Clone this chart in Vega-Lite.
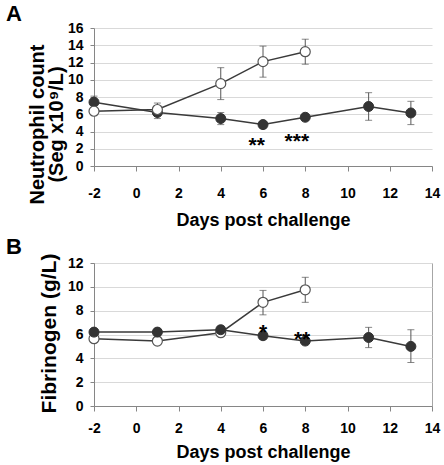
{
  "$schema": "https://vega.github.io/schema/vega-lite/v6.json",
  "padding": {"left": 5, "top": 3, "right": 5, "bottom": 5},
  "background": "white",
  "spacing": 97,
  "bounds": "flush",
  "config": {
    "font": "Liberation Sans",
    "view": {"stroke": null},
    "axis": {
      "labelFont": "Liberation Sans", "labelFontWeight": "bold", "labelFontSize": 14, "labelColor": "black",
      "titleFont": "Liberation Sans", "titleFontWeight": "bold", "titleColor": "black",
      "domainColor": "#868686", "tickColor": "#868686", "gridColor": "#d9d9d9",
      "labelFlush": false, "labelOverlap": false
    },
    "title": {"font": "Liberation Sans", "fontWeight": "bold", "fontSize": 22, "color": "black", "anchor": "start", "frame": "group"}
  },
  "datasets": {
    "a": [
      {"day": -2, "value": 7.4, "lo": 6.7, "hi": 8.1, "group": "filled"},
      {"day": 1, "value": 6.2, "lo": 5.5, "hi": 6.9, "group": "filled"},
      {"day": 4, "value": 5.5, "lo": 4.8, "hi": 6.2, "group": "filled"},
      {"day": 6, "value": 4.8, "lo": 4.5, "hi": 5.1, "group": "filled"},
      {"day": 8, "value": 5.65, "lo": 5.3, "hi": 6.0, "group": "filled"},
      {"day": 11, "value": 6.9, "lo": 5.3, "hi": 8.5, "group": "filled"},
      {"day": 13, "value": 6.15, "lo": 4.8, "hi": 7.5, "group": "filled"},
      {"day": -2, "value": 6.35, "lo": 6.0, "hi": 6.7, "group": "open"},
      {"day": 1, "value": 6.55, "lo": 5.9, "hi": 7.3, "group": "open"},
      {"day": 4, "value": 9.55, "lo": 7.7, "hi": 11.4, "group": "open"},
      {"day": 6, "value": 12.1, "lo": 10.3, "hi": 13.9, "group": "open"},
      {"day": 8, "value": 13.25, "lo": 11.8, "hi": 14.7, "group": "open"}
    ],
    "aStars": [
      {"day": 5.7, "value": 3.0, "label": "**"},
      {"day": 7.6, "value": 3.5, "label": "***"}
    ],
    "b": [
      {"day": -2, "value": 6.2, "lo": 5.9, "hi": 6.5, "group": "filled"},
      {"day": 1, "value": 6.2, "lo": 5.9, "hi": 6.5, "group": "filled"},
      {"day": 4, "value": 6.4, "lo": 6.1, "hi": 6.7, "group": "filled"},
      {"day": 6, "value": 5.9, "lo": 5.6, "hi": 6.2, "group": "filled"},
      {"day": 8, "value": 5.45, "lo": 5.15, "hi": 5.75, "group": "filled"},
      {"day": 11, "value": 5.75, "lo": 4.9, "hi": 6.6, "group": "filled"},
      {"day": 13, "value": 5.0, "lo": 3.65, "hi": 6.4, "group": "filled"},
      {"day": -2, "value": 5.65, "lo": 5.35, "hi": 5.95, "group": "open"},
      {"day": 1, "value": 5.45, "lo": 5.15, "hi": 5.75, "group": "open"},
      {"day": 4, "value": 6.15, "lo": 5.85, "hi": 6.45, "group": "open"},
      {"day": 6, "value": 8.7, "lo": 7.65, "hi": 9.7, "group": "open"},
      {"day": 8, "value": 9.75, "lo": 8.7, "hi": 10.8, "group": "open"}
    ],
    "bStars": [
      {"day": 6.0, "value": 6.6, "label": "*"},
      {"day": 7.85, "value": 6.05, "label": "**"}
    ]
  },
  "vconcat": [
    {
      "width": 338,
      "height": 138,
      "title": {"text": "A", "dx": -88, "offset": -5},
      "data": {"name": "a"},
      "encoding": {
        "x": {"field": "day", "type": "quantitative", "scale": {"domain": [-2, 14], "nice": false, "zero": false},
          "axis": {"values": [-2, 0, 2, 4, 6, 8, 10, 12, 14], "domain": true, "grid": false, "tickSize": 5, "labelPadding": 15, "labelFontWeight": "bold", "labelExpr": "datum.value < 0 ? '-' + abs(datum.value) : datum.label", "title": "Days post challenge", "titleFontSize": 18, "titlePadding": 11}}
      },
      "layer": [
        {
          "mark": {"type": "rule", "color": "#555555", "strokeWidth": 1},
          "encoding": {
            "y": {"field": "lo", "type": "quantitative", "scale": {"domain": [0, 16], "nice": false},
              "axis": {"values": [0, 2, 4, 6, 8, 10, 12, 14, 16], "domain": true, "grid": true, "tickSize": 4, "labelPadding": 7, "labelFontWeight": "bold", "title": ["Neutrophil count", "(Seg x10⁹/L)"], "titleFontSize": 20, "titleLineHeight": 19, "titlePadding": 1, "titleY": 96}},
            "y2": {"field": "hi"}
          }
        },
        {
          "mark": {"type": "tick", "orient": "horizontal", "color": "#555555", "thickness": 1, "size": 7},
          "encoding": {"y": {"field": "lo", "type": "quantitative", "scale": {"domain": [0, 16], "nice": false},
              "axis": {"values": [0, 2, 4, 6, 8, 10, 12, 14, 16], "domain": true, "grid": true, "tickSize": 4, "labelPadding": 7, "labelFontWeight": "bold", "title": ["Neutrophil count", "(Seg x10⁹/L)"], "titleFontSize": 20, "titleLineHeight": 19, "titlePadding": 1, "titleY": 96}}}
        },
        {
          "mark": {"type": "tick", "orient": "horizontal", "color": "#555555", "thickness": 1, "size": 7},
          "encoding": {"y": {"field": "hi", "type": "quantitative", "scale": {"domain": [0, 16], "nice": false},
              "axis": {"values": [0, 2, 4, 6, 8, 10, 12, 14, 16], "domain": true, "grid": true, "tickSize": 4, "labelPadding": 7, "labelFontWeight": "bold", "title": ["Neutrophil count", "(Seg x10⁹/L)"], "titleFontSize": 20, "titleLineHeight": 19, "titlePadding": 1, "titleY": 96}}}
        },
        {
          "mark": {"type": "line", "color": "#3a3a3a", "strokeWidth": 1.5},
          "encoding": {"y": {"field": "value", "type": "quantitative", "scale": {"domain": [0, 16], "nice": false},
              "axis": {"values": [0, 2, 4, 6, 8, 10, 12, 14, 16], "domain": true, "grid": true, "tickSize": 4, "labelPadding": 7, "labelFontWeight": "bold", "title": ["Neutrophil count", "(Seg x10⁹/L)"], "titleFontSize": 20, "titleLineHeight": 19, "titlePadding": 1, "titleY": 96}}, "detail": {"field": "group"}}
        },
        {
          "transform": [{"filter": "datum.group === 'filled'"}],
          "mark": {"type": "point", "shape": "circle", "filled": true, "fill": "#333333", "stroke": "#333333", "strokeWidth": 1, "size": 100, "opacity": 1},
          "encoding": {"y": {"field": "value", "type": "quantitative", "scale": {"domain": [0, 16], "nice": false},
              "axis": {"values": [0, 2, 4, 6, 8, 10, 12, 14, 16], "domain": true, "grid": true, "tickSize": 4, "labelPadding": 7, "labelFontWeight": "bold", "title": ["Neutrophil count", "(Seg x10⁹/L)"], "titleFontSize": 20, "titleLineHeight": 19, "titlePadding": 1, "titleY": 96}}}
        },
        {
          "transform": [{"filter": "datum.group === 'open'"}],
          "mark": {"type": "point", "shape": "circle", "filled": true, "fill": "white", "stroke": "#555555", "strokeWidth": 1.2, "size": 100, "opacity": 1},
          "encoding": {"y": {"field": "value", "type": "quantitative", "scale": {"domain": [0, 16], "nice": false},
              "axis": {"values": [0, 2, 4, 6, 8, 10, 12, 14, 16], "domain": true, "grid": true, "tickSize": 4, "labelPadding": 7, "labelFontWeight": "bold", "title": ["Neutrophil count", "(Seg x10⁹/L)"], "titleFontSize": 20, "titleLineHeight": 19, "titlePadding": 1, "titleY": 96}}}
        },
        {
          "data": {"name": "aStars"},
          "mark": {"type": "text", "font": "Liberation Sans", "fontWeight": "bold", "fontSize": 21, "color": "black", "baseline": "middle", "dy": 6},
          "encoding": {"y": {"field": "value", "type": "quantitative", "scale": {"domain": [0, 16], "nice": false},
              "axis": {"values": [0, 2, 4, 6, 8, 10, 12, 14, 16], "domain": true, "grid": true, "tickSize": 4, "labelPadding": 7, "labelFontWeight": "bold", "title": ["Neutrophil count", "(Seg x10⁹/L)"], "titleFontSize": 20, "titleLineHeight": 19, "titlePadding": 1, "titleY": 96}}, "text": {"field": "label"}}
        }
      ]
    },
    {
      "width": 338,
      "height": 143,
      "view": {"stroke": "#a6a6a6"},
      "title": {"text": "B", "dx": -88, "offset": -6},
      "data": {"name": "b"},
      "encoding": {
        "x": {"field": "day", "type": "quantitative", "scale": {"domain": [-2, 14], "nice": false, "zero": false},
          "axis": {"values": [-2, 0, 2, 4, 6, 8, 10, 12, 14], "domain": true, "grid": false, "tickSize": 5, "labelPadding": 10, "labelFontWeight": "bold", "labelExpr": "datum.value < 0 ? '-' + abs(datum.value) : datum.label", "title": "Days post challenge", "titleFontSize": 18, "titlePadding": 8}}
      },
      "layer": [
        {
          "mark": {"type": "rule", "color": "#555555", "strokeWidth": 1},
          "encoding": {
            "y": {"field": "lo", "type": "quantitative", "scale": {"domain": [0, 12], "nice": false},
              "axis": {"values": [0, 2, 4, 6, 8, 10, 12], "domain": true, "grid": true, "tickSize": 4, "labelPadding": 7, "labelFontWeight": "bold", "title": "Fibrinogen (g/L)", "titleFontSize": 21, "titlePadding": 8, "titleY": 70}},
            "y2": {"field": "hi"}
          }
        },
        {
          "mark": {"type": "tick", "orient": "horizontal", "color": "#555555", "thickness": 1, "size": 7},
          "encoding": {"y": {"field": "lo", "type": "quantitative", "scale": {"domain": [0, 12], "nice": false},
              "axis": {"values": [0, 2, 4, 6, 8, 10, 12], "domain": true, "grid": true, "tickSize": 4, "labelPadding": 7, "labelFontWeight": "bold", "title": "Fibrinogen (g/L)", "titleFontSize": 21, "titlePadding": 8, "titleY": 70}}}
        },
        {
          "mark": {"type": "tick", "orient": "horizontal", "color": "#555555", "thickness": 1, "size": 7},
          "encoding": {"y": {"field": "hi", "type": "quantitative", "scale": {"domain": [0, 12], "nice": false},
              "axis": {"values": [0, 2, 4, 6, 8, 10, 12], "domain": true, "grid": true, "tickSize": 4, "labelPadding": 7, "labelFontWeight": "bold", "title": "Fibrinogen (g/L)", "titleFontSize": 21, "titlePadding": 8, "titleY": 70}}}
        },
        {
          "mark": {"type": "line", "color": "#3a3a3a", "strokeWidth": 1.5},
          "encoding": {"y": {"field": "value", "type": "quantitative", "scale": {"domain": [0, 12], "nice": false},
              "axis": {"values": [0, 2, 4, 6, 8, 10, 12], "domain": true, "grid": true, "tickSize": 4, "labelPadding": 7, "labelFontWeight": "bold", "title": "Fibrinogen (g/L)", "titleFontSize": 21, "titlePadding": 8, "titleY": 70}}, "detail": {"field": "group"}}
        },
        {
          "transform": [{"filter": "datum.group === 'open'"}],
          "mark": {"type": "point", "shape": "circle", "filled": true, "fill": "white", "stroke": "#555555", "strokeWidth": 1.2, "size": 100, "opacity": 1},
          "encoding": {"y": {"field": "value", "type": "quantitative", "scale": {"domain": [0, 12], "nice": false},
              "axis": {"values": [0, 2, 4, 6, 8, 10, 12], "domain": true, "grid": true, "tickSize": 4, "labelPadding": 7, "labelFontWeight": "bold", "title": "Fibrinogen (g/L)", "titleFontSize": 21, "titlePadding": 8, "titleY": 70}}}
        },
        {
          "transform": [{"filter": "datum.group === 'filled'"}],
          "mark": {"type": "point", "shape": "circle", "filled": true, "fill": "#333333", "stroke": "#333333", "strokeWidth": 1, "size": 100, "opacity": 1},
          "encoding": {"y": {"field": "value", "type": "quantitative", "scale": {"domain": [0, 12], "nice": false},
              "axis": {"values": [0, 2, 4, 6, 8, 10, 12], "domain": true, "grid": true, "tickSize": 4, "labelPadding": 7, "labelFontWeight": "bold", "title": "Fibrinogen (g/L)", "titleFontSize": 21, "titlePadding": 8, "titleY": 70}}}
        },
        {
          "data": {"name": "bStars"},
          "mark": {"type": "text", "font": "Liberation Sans", "fontWeight": "bold", "fontSize": 21, "color": "black", "baseline": "middle", "dy": 6},
          "encoding": {"y": {"field": "value", "type": "quantitative", "scale": {"domain": [0, 12], "nice": false},
              "axis": {"values": [0, 2, 4, 6, 8, 10, 12], "domain": true, "grid": true, "tickSize": 4, "labelPadding": 7, "labelFontWeight": "bold", "title": "Fibrinogen (g/L)", "titleFontSize": 21, "titlePadding": 8, "titleY": 70}}, "text": {"field": "label"}}
        }
      ]
    }
  ]
}
